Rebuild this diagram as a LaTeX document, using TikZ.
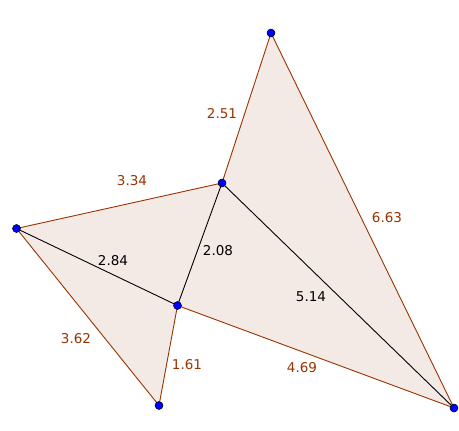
\documentclass[tikz,border=0pt]{standalone}
\usepackage{fontspec}
\setmainfont{DejaVu Sans}
\usepackage{xcolor}
\usepackage{tikz}
\usetikzlibrary{positioning}

\definecolor{segbrown}{RGB}{153,51,0}
\definecolor{areafill}{RGB}{244,234,229}
\definecolor{ptblue}{RGB}{0,0,255}

\begin{document}
\begin{tikzpicture}[x=1pt, y=-1pt,
    seg/.style={draw=segbrown, line width=0.9pt},
    diag/.style={draw=black, line width=0.9pt},
    pt/.style={circle, fill=ptblue, draw=black, line width=0.5pt, inner sep=0pt, minimum size=8pt},
    lenlabel/.style={text=segbrown, font=\fontsize{13.5}{16}\selectfont, inner sep=1pt},
    difflabel/.style={text=black, font=\fontsize{13.5}{16}\selectfont, inner sep=1pt}]
    \useasboundingbox (0,0) rectangle (459,431);
    % vertices
    \coordinate (A) at (271,33);
    \coordinate (B) at (222,183);
    \coordinate (C) at (16.5,228.5);
    \coordinate (D) at (177.5,305.5);
    \coordinate (E) at (159,405.5);
    \coordinate (F) at (454,408);
    % shaded region
    \fill[areafill] (A) -- (F) -- (D) -- (E) -- (C) -- (B) -- cycle;
    % outer edges
    \draw[seg] (A) -- (B);
    \draw[seg] (A) -- (F);
    \draw[seg] (B) -- (C);
    \draw[seg] (C) -- (E);
    \draw[seg] (E) -- (D);
    \draw[seg] (D) -- (F);
    % inner edges
    \draw[diag] (C) -- (D);
    \draw[diag] (B) -- (D);
    \draw[diag] (B) -- (F);
    % lengths
    \node (lAB) [lenlabel] at (222,114) {2.51};
    \node (lAF) [lenlabel] at (387,218) {6.63};
    \node (lBC) [lenlabel] at (132,181) {3.34};
    \node (lCE) [lenlabel] at (76,339) {3.62};
    \node (lED) [lenlabel] at (187,365) {1.61};
    \node (lDF) [lenlabel] at (302,368) {4.69};
    \node (lCD) [difflabel] at (113,261) {2.84};
    \node (lBD) [difflabel] at (218,251) {2.08};
    \node (lBF) [difflabel] at (311,297) {5.14};
    % points
    \foreach \p in {A,B,C,D,E,F}
        \node (p\p) [pt] at (\p) {};
\end{tikzpicture}
\end{document}
